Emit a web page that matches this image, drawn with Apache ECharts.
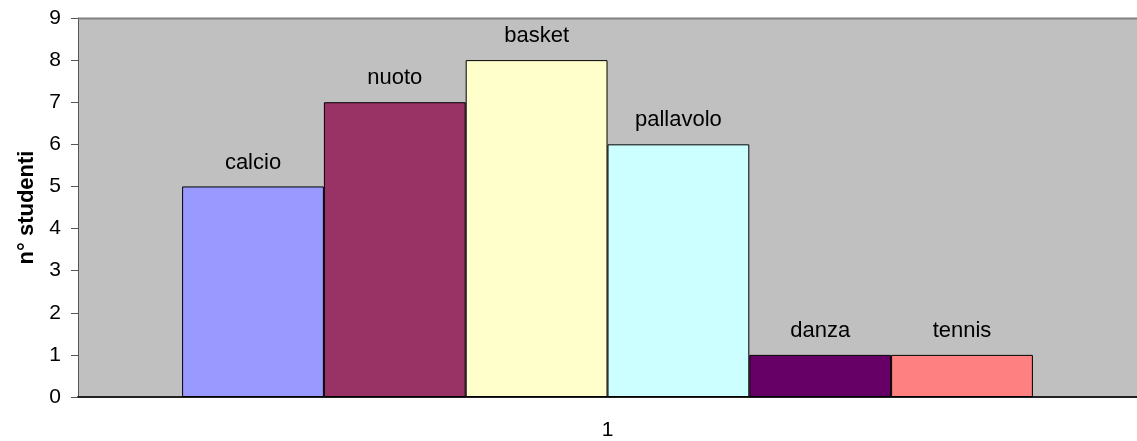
<!DOCTYPE html>
<html>
<head>
<meta charset="utf-8">
<script src="https://cdn.jsdelivr.net/npm/echarts@6/dist/echarts.min.js"></script>
<style>
  html, body { margin: 0; padding: 0; background: #fff; }
  #chart { width: 1137px; height: 441px; }
</style>
</head>
<body>
<div id="chart"></div>
<script>
// Sport preferiti: numero di studenti per disciplina
const categories = ['1'];
const sports = ['calcio', 'nuoto', 'basket', 'pallavolo', 'danza', 'tennis'];
const students = [5, 7, 8, 6, 1, 1];
const colors = ['#9999FF', '#993366', '#FFFFCC', '#CCFFFF', '#660066', '#FF8080'];
const yTicks = [0, 1, 2, 3, 4, 5, 6, 7, 8, 9];

const font = '"Liberation Sans", Arial, sans-serif';

const series = sports.map((name, i) => ({
  name: name,
  type: 'bar',
  data: [students[i]],
  barGap: '0%',
  barWidth: 141.8,
  itemStyle: { color: colors[i], borderColor: '#000', borderWidth: 1 },
  label: {
    show: true,
    position: 'top',
    distance: 13,
    formatter: name,
    color: '#000',
    fontFamily: font,
    fontSize: 22
  },
  emphasis: { disabled: true },
  animation: false
}));

const chart = echarts.init(document.getElementById('chart'), null, { renderer: 'canvas' });
chart.setOption({
  animation: false,
  grid: {
    left: 78, top: 18, width: 1068, height: 379,
    show: true, backgroundColor: '#C0C0C0', borderWidth: 0
  },
  xAxis: {
    type: 'category',
    data: categories,
    axisLine: { show: true, lineStyle: { color: '#222', width: 2 } },
    axisTick: { show: false },
    axisLabel: { color: '#000', fontFamily: font, fontSize: 21, margin: 23 }
  },
  yAxis: {
    type: 'value',
    min: yTicks[0],
    max: yTicks[yTicks.length - 1],
    interval: 1,
    name: 'n° studenti',
    nameLocation: 'middle',
    nameGap: 40,
    nameTextStyle: { color: '#000', fontFamily: font, fontSize: 22, fontWeight: 'bold' },
    axisLine: { show: true, lineStyle: { color: '#555', width: 1 } },
    axisTick: { show: true, length: 7, lineStyle: { color: '#555' } },
    axisLabel: { color: '#000', fontFamily: font, fontSize: 21, margin: 17 },
    splitLine: { show: false }
  },
  graphic: [{
    type: 'line',
    shape: { x1: 78, y1: 18.5, x2: 1137, y2: 18.5 },
    style: { stroke: '#808080', lineWidth: 2 },
    z: 10
  }],
  series: series
});
</script>
</body>
</html>
